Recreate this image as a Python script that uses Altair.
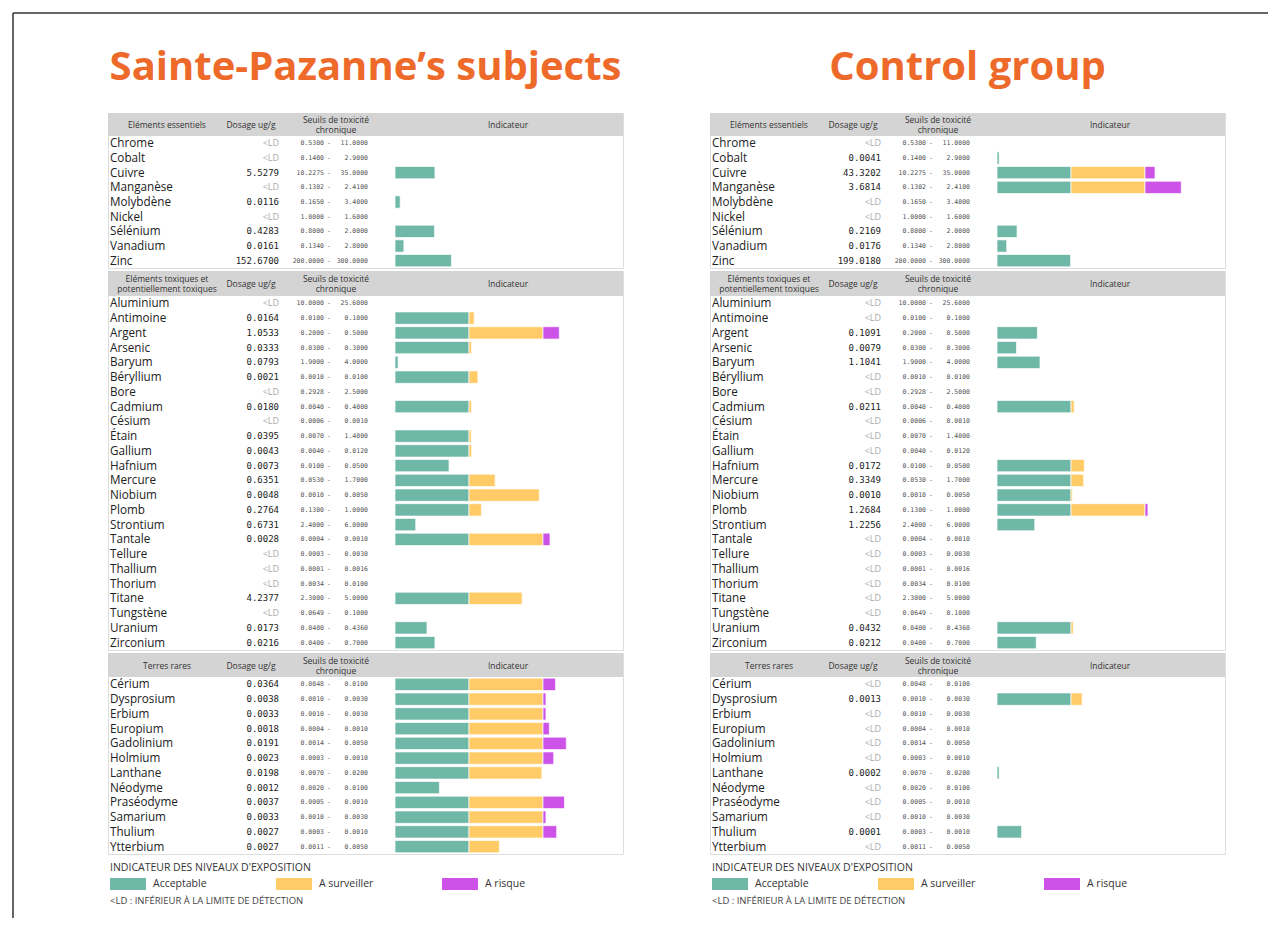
import altair as alt
import pandas as pd

# ---------------- data ----------------
essentials = ["Chrome", "Cobalt", "Cuivre", "Manganèse", "Molybdène", "Nickel", "Sélénium", "Vanadium", "Zinc"]
ess_low = ["0.5300", "0.1400", "10.2275", "0.1302", "0.1650", "1.0000", "0.8000", "0.1340", "200.0000"]
ess_high = ["11.0000", "2.9000", "35.0000", "2.4100", "3.4000", "1.6000", "2.0000", "2.8000", "300.0000"]
sp_ess_dose = ["<LD", "<LD", "5.5279", "<LD", "0.0116", "<LD", "0.4283", "0.0161", "152.6700"]
sp_ess_ind = [0, 0, 0.54, 0, 0.07, 0, 0.535, 0.12, 0.763]
cg_ess_dose = ["<LD", "0.0041", "43.3202", "3.6814", "<LD", "<LD", "0.2169", "0.0176", "199.0180"]
cg_ess_ind = [0, 0.029, 2.135, 2.49, 0, 0, 0.271, 0.131, 0.995]

toxics = ["Aluminium", "Antimoine", "Argent", "Arsenic", "Baryum", "Béryllium", "Bore", "Cadmium",
          "Césium", "Étain", "Gallium", "Hafnium", "Mercure", "Niobium", "Plomb", "Strontium",
          "Tantale", "Tellure", "Thallium", "Thorium", "Titane", "Tungstène", "Uranium", "Zirconium"]
tox_low = ["10.0000", "0.0100", "0.2000", "0.0300", "1.9000", "0.0010", "0.2928", "0.0040",
           "0.0006", "0.0070", "0.0040", "0.0100", "0.0530", "0.0010", "0.1300", "2.4000",
           "0.0004", "0.0003", "0.0001", "0.0034", "2.3000", "0.0649", "0.0400", "0.0400"]
tox_high = ["25.6000", "0.1000", "0.5000", "0.3000", "4.0000", "0.0100", "2.5000", "0.4000",
            "0.0010", "1.4000", "0.0120", "0.0500", "1.7000", "0.0050", "1.0000", "6.0000",
            "0.0010", "0.0030", "0.0016", "0.0100", "5.0000", "0.1000", "0.4360", "0.7000"]
sp_tox_dose = ["<LD", "0.0164", "1.0533", "0.0333", "0.0793", "0.0021", "<LD", "0.0180",
               "<LD", "0.0395", "0.0043", "0.0073", "0.6351", "0.0048", "0.2764", "0.6731",
               "0.0028", "<LD", "<LD", "<LD", "4.2377", "<LD", "0.0173", "0.0216"]
sp_tox_ind = [0, 1.07, 2.22, 1.035, 0.042, 1.12, 0, 1.035,
              0, 1.03, 1.037, 0.73, 1.353, 1.95, 1.168, 0.28,
              2.095, 0, 0, 0, 1.718, 0, 0.4325, 0.54]
cg_tox_dose = ["<LD", "<LD", "0.1091", "0.0079", "1.1041", "<LD", "<LD", "0.0211",
               "<LD", "<LD", "<LD", "0.0172", "0.3349", "0.0010", "1.2684", "1.2256",
               "<LD", "<LD", "<LD", "<LD", "<LD", "<LD", "0.0432", "0.0212"]
cg_tox_ind = [0, 0, 0.546, 0.263, 0.581, 0, 0, 1.043,
              0, 0, 0, 1.18, 1.171, 1.02, 2.04, 0.51,
              0, 0, 0, 0, 0, 0, 1.03, 0.53]

rares = ["Cérium", "Dysprosium", "Erbium", "Europium", "Gadolinium", "Holmium", "Lanthane",
         "Néodyme", "Praséodyme", "Samarium", "Thulium", "Ytterbium"]
rar_low = ["0.0048", "0.0010", "0.0010", "0.0004", "0.0014", "0.0003", "0.0070",
           "0.0020", "0.0005", "0.0010", "0.0003", "0.0011"]
rar_high = ["0.0100", "0.0030", "0.0030", "0.0010", "0.0050", "0.0010", "0.0200",
            "0.0100", "0.0010", "0.0030", "0.0010", "0.0050"]
sp_rar_dose = ["0.0364", "0.0038", "0.0033", "0.0018", "0.0191", "0.0023", "0.0198",
               "0.0012", "0.0037", "0.0033", "0.0027", "0.0027"]
sp_rar_ind = [2.17, 2.04, 2.04, 2.085, 2.315, 2.145, 1.985, 0.6, 2.29, 2.04, 2.185, 1.41]
cg_rar_dose = ["<LD", "0.0013", "<LD", "<LD", "<LD", "<LD", "0.0002",
               "<LD", "<LD", "<LD", "0.0001", "<LD"]
cg_rar_ind = [0, 1.15, 0, 0, 0, 0, 0.029, 0, 0, 0, 0.333, 0]

levels = ["Acceptable", "A surveiller", "A risque"]
level_colors = ["#6fb7a6", "#ffcb67", "#cc52e8"]

titles = ["Sainte-Pazanne’s subjects", "Control group"]

# ---------------- style ----------------
W = 515
SANS = "Open Sans"
MONO = "DejaVu Sans Mono"
COLOR_SCALE = alt.Scale(domain=levels, range=level_colors)
LH = 9.5


def segments(names, inds):
    rows = []
    for n, v in zip(names, inds):
        if v <= 0:
            continue
        rows.append({"element": n, "level": levels[0], "start": 0.0, "end": min(v, 1.0)})
        if v > 1:
            rows.append({"element": n, "level": levels[1], "start": 1.0, "end": min(v, 2.0)})
        if v > 2:
            rows.append({"element": n, "level": levels[2], "start": 2.0, "end": v})
    return pd.DataFrame(rows)


def one():
    return alt.Chart(pd.DataFrame({"k": [0]}))


def htext(text, x, cy):
    lines = text if isinstance(text, list) else [text]
    y = cy - (len(lines) - 1) * LH / 2
    return one().mark_text(text=text, font=SANS, fontSize=8.5, color="#333", align="center",
                           baseline="middle", lineHeight=LH).encode(x=alt.value(x), y=alt.value(y))


def section(names, lows, highs, doses, inds, head1, height, head_h, head_y):
    ysc = alt.Scale(domain=names, range=[head_h, height], paddingInner=0.16, paddingOuter=0.08)
    Y = alt.Y("element:N", scale=ysc, axis=None, sort=names)
    base = alt.Chart(pd.DataFrame({"element": names, "low": lows, "high": highs, "dose": doses}))

    hdr = one().mark_rect(color="#d4d4d4").encode(
        x=alt.value(0), x2=alt.value(W), y=alt.value(0), y2=alt.value(head_h))
    h1 = htext(head1, 59, head_y)
    h2 = htext("Dosage ug/g", 143, head_y)
    h3 = htext(["Seuils de toxicité", "chronique"], 228, head_y)
    h4 = htext("Indicateur", 400, head_y)

    nm = base.mark_text(align="left", baseline="middle", font=SANS, fontSize=11.7, color="#222").encode(
        x=alt.value(2), y=Y, text="element:N")
    dose = base.transform_filter("datum.dose != '<LD'").mark_text(
        align="right", baseline="middle", font=MONO, fontSize=9, color="#222").encode(
        x=alt.value(171), y=Y, text="dose:N")
    ld = base.transform_filter("datum.dose == '<LD'").mark_text(
        align="right", baseline="middle", font=SANS, fontSize=9, color="#aaaaaa").encode(
        x=alt.value(171), y=Y, text="dose:N")
    tstyle = dict(baseline="middle", font=MONO, fontSize=6.5, color="#555")
    low = base.mark_text(align="right", **tstyle).encode(x=alt.value(216), y=Y, text="low:N")
    dash = base.mark_text(align="center", text="-", **tstyle).encode(x=alt.value(221), y=Y)
    high = base.mark_text(align="right", **tstyle).encode(x=alt.value(260), y=Y, text="high:N")

    bars = alt.Chart(segments(names, inds)).mark_rect(stroke="white", strokeWidth=0.7).encode(
        x=alt.X("start:Q", scale=alt.Scale(domain=[0, 3], range=[287, 509], nice=False, zero=False), axis=None),
        x2="end:Q",
        y=Y,
        color=alt.Color("level:N", scale=COLOR_SCALE, legend=None),
    )
    return alt.layer(hdr, h1, h2, h3, h4, nm, dose, ld, low, dash, high, bars).properties(
        width=W, height=height)


def legend_chart():
    ldf = pd.DataFrame({"level": levels})
    LX = alt.X("level:N", scale=alt.Scale(type="point", domain=levels, range=[2, 334], padding=0), axis=None)
    sw = alt.Chart(ldf).mark_point(shape="M0,-1H6V1H0Z", size=144, filled=True, opacity=1, strokeWidth=0).encode(
        x=LX, y=alt.value(27), color=alt.Color("level:N", scale=COLOR_SCALE, legend=None))
    lab = alt.Chart(ldf).mark_text(align="left", baseline="middle", dx=43, font=SANS, fontSize=10.5,
                                   color="#333").encode(x=LX, y=alt.value(27), text="level:N")
    t1 = one().mark_text(text="INDICATEUR DES NIVEAUX D'EXPOSITION", align="left", baseline="middle",
                         font=SANS, fontSize=10.5, color="#333").encode(x=alt.value(2), y=alt.value(11))
    t2 = one().mark_text(text="<LD : INFÉRIEUR À LA LIMITE DE DÉTECTION", align="left", baseline="middle",
                         font=SANS, fontSize=9.5, color="#444").encode(x=alt.value(2), y=alt.value(44))
    return alt.layer(t1, sw, lab, t2).properties(width=W, height=55,
                                                 view=alt.ViewBackground(stroke="transparent"))


def title_chart(title, frame):
    t = one().mark_text(text=title, font=SANS, fontSize=40, fontWeight="bold", color="#EE6A2B",
                        align="center", baseline="alphabetic").encode(x=alt.value(W / 2), y=alt.value(50))
    layers = [t]
    if frame:
        layers.append(one().mark_rule(color="#333", strokeWidth=1.5).encode(
            x=alt.value(-95), x2=alt.value(1160), y=alt.value(-17)))
        layers.append(one().mark_rule(color="#333", strokeWidth=1.5).encode(
            x=alt.value(-95), y=alt.value(-17), y2=alt.value(888)))
    return alt.layer(*layers).properties(width=W, height=80, view=alt.ViewBackground(stroke="transparent"))


def panel_rows(title, frame, ed, ei, td, ti, rd, ri):
    s1 = section(essentials, ess_low, ess_high, ed, ei, "Eléments essentiels", 155, 23, 12)
    s2 = section(toxics, tox_low, tox_high, td, ti, ["Eléments toxiques et", "potentiellement toxiques"],
                 379, 25, 13)
    s3 = section(rares, rar_low, rar_high, rd, ri, "Terres rares", 201, 24, 13)
    return [title_chart(title, frame), s1, s2, s3, legend_chart()]


L = panel_rows(titles[0], True, sp_ess_dose, sp_ess_ind, sp_tox_dose, sp_tox_ind, sp_rar_dose, sp_rar_ind)
R = panel_rows(titles[1], False, cg_ess_dose, cg_ess_ind, cg_tox_dose, cg_tox_ind, cg_rar_dose, cg_rar_ind)

cells = []
for a, b in zip(L, R):
    cells += [a, b]

chart = alt.concat(*cells, columns=2, spacing={"row": 3, "column": 87}, bounds="flush").properties(
    padding={"left": 3, "top": 3, "right": 3, "bottom": 0}
).configure_view(stroke="#555", strokeWidth=1.5).configure(background="white")

chart.save("out.html", embed_options={"renderer": "svg", "actions": False})
